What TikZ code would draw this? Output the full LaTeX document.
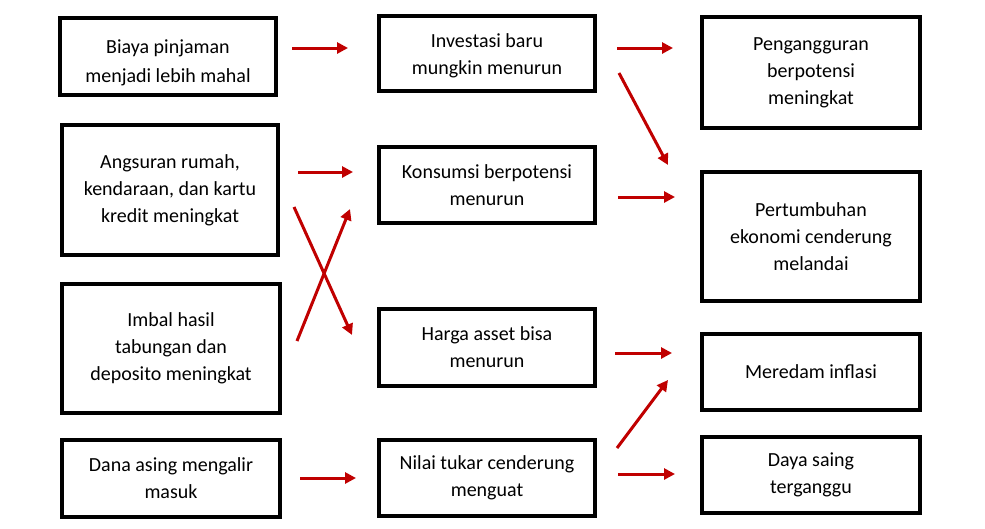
\documentclass[tikz,border=0pt]{standalone}
\usepackage{fontspec}
\setmainfont{Carlito}
\usepackage{xcolor}
\usepackage{tikz}
\usetikzlibrary{arrows.meta}

\definecolor{arrred}{RGB}{192,0,0}

\begin{document}
\begin{tikzpicture}[x=1pt, y=-1pt,
  box/.style={draw, line width=4pt, align=center, inner sep=0pt,
    minimum width=216pt, font=\fontsize{20}{27}\selectfont},
  arr/.style={draw=arrred, line width=3pt, -{Triangle[length=11pt, width=11pt]}},
  every edge/.style={arr}]
\useasboundingbox (0,0) rectangle (985,528);

% left column
\node[box, minimum height=77pt, text height=55pt, font=\fontsize{20}{28.5}\selectfont] (biaya) at (168,56.5) {Biaya pinjaman\\menjadi lebih mahal};
\node[box, minimum height=130pt] (angsur) at (170,190) {Angsuran rumah,\\kendaraan, dan kartu\\kredit meningkat};
\node[box, minimum width=218pt, minimum height=129pt] (imbal) at (171,348.5) {Imbal hasil\\tabungan dan\\deposito meningkat};
\node[box, minimum width=218pt, minimum height=77pt] (dana) at (171,478.5) {Dana asing mengalir\\masuk};

% middle column
\node[box, minimum height=75pt, text height=45pt] (invest) at (487,53.5) {Investasi baru\\mungkin menurun};
\node[box, minimum height=76pt] (konsum) at (487,185) {Konsumsi berpotensi\\menurun};
\node[box, minimum height=77pt] (harga) at (487,347.5) {Harga asset bisa\\menurun};
\node[box, minimum height=76pt] (nilai) at (487,478) {Nilai tukar cenderung\\menguat};

% right column
\node[box, minimum width=218pt, minimum height=111pt] (pengang) at (811,72.5) {Pengangguran\\berpotensi\\meningkat};
\node[box, minimum width=218pt, minimum height=129pt] (pertumb) at (811,236.5) {Pertumbuhan\\ekonomi cenderung\\melandai};
\node[box, minimum width=218pt, minimum height=76pt] (meredam) at (811,372) {Meredam inflasi};
\node[box, minimum width=218pt, minimum height=76pt] (daya) at (811,475) {Daya saing\\terganggu};

\path
([shift={(14,-8.5)}]biaya.east) edge ([shift={(-29,-5.5)}]invest.west)
([shift={(18,-18)}]angsur.east) edge ([shift={(-24,-13)}]konsum.west)
([shift={(14,17)}]angsur.east) edge ([shift={(-25,-12.5)}]harga.west)
([shift={(15,-7.5)}]imbal.east) edge ([shift={(-27,24)}]konsum.west)
([shift={(18,-0.5)}]dana.east) edge ([shift={(-21,0)}]nilai.west)

([shift={(20,-5.5)}]invest.east) edge ([shift={(-27,-24.5)}]pengang.west)
([shift={(22,19.5)}]invest.east) edge ([shift={(-32,-71.5)}]pertumb.west)
([shift={(21,12)}]konsum.east) edge ([shift={(-25,-39.5)}]pertumb.west)
([shift={(18,5.5)}]harga.east) edge ([shift={(-28,-19)}]meredam.west)
([shift={(20,-30)}]nilai.east) edge ([shift={(-32,8)}]meredam.west)
([shift={(21,-4)}]nilai.east) edge ([shift={(-25,-1)}]daya.west);
\end{tikzpicture}
\end{document}
